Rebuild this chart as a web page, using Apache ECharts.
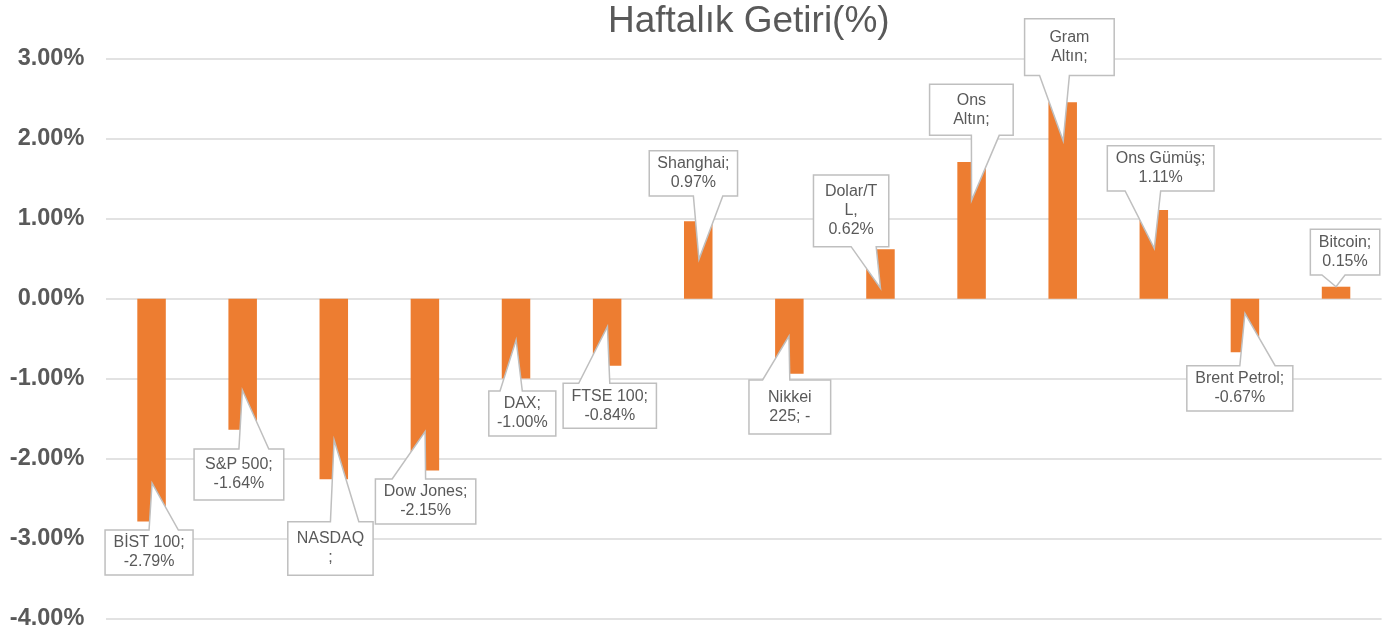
<!DOCTYPE html>
<html>
<head>
<meta charset="utf-8">
<script src="https://cdn.jsdelivr.net/npm/echarts@6/dist/echarts.min.js"></script>
<style>
html,body{margin:0;padding:0;background:#fff;}
#chart{width:1389px;height:636px;}
</style>
</head>
<body>
<div id="chart"></div>
<script>
// ---- data ----
var categories = ['BİST 100','S&P 500','NASDAQ','Dow Jones','DAX','FTSE 100','Shanghai','Nikkei 225','Dolar/TL','Ons Altın','Gram Altın','Ons Gümüş','Brent Petrol','Bitcoin'];
var values = [-2.79,-1.64,-2.26,-2.15,-1.00,-0.84,0.97,-0.94,0.62,1.71,2.46,1.11,-0.67,0.15];
var labelTexts = [
  'BİST 100;\n-2.79%',
  'S&P 500;\n-1.64%',
  'NASDAQ\n;',
  'Dow Jones;\n-2.15%',
  'DAX;\n-1.00%',
  'FTSE 100;\n-0.84%',
  'Shanghai;\n0.97%',
  'Nikkei\n225; -',
  'Dolar/T\nL,\n0.62%',
  'Ons\nAltın;',
  'Gram\nAltın;',
  'Ons Gümüş;\n1.11%',
  'Brent Petrol;\n-0.67%',
  'Bitcoin;\n0.15%'
];
var yTicks = [-4,-3,-2,-1,0,1,2,3];
var titleText = 'Haftalık Getiri(%)';

// ---- label layout (pixel offsets from the bar end) ----
var calloutBox = [
  [-46.5,41.5,8.4,53.4],
  [-48.6,41.1,19.3,70.3],
  [-46,39.3,42.4,96],
  [-49.5,50.9,8.5,53.5],
  [-27.2,39.8,12.4,57.4],
  [-44,49.3,17.5,62.5],
  [-49,39.3,-70.5,-25.2],
  [-40.4,41.3,6.2,60.2],
  [-67,8.3,-74.2,-2.5],
  [-42,41.6,-77.7,-26.7],
  [-38.1,51.5,-83.3,-26.6],
  [-46.5,60.2,-64.3,-19],
  [-58.1,47.9,13.5,58.8],
  [-25.7,43.7,-57.4,-11.7]
];
var calloutTip = [
  [0.5,-38.6],[-0.3,-39.7],[0.3,-39.3],[0.2,-38.8],[0.1,-38.6],[0.3,-39.1],
  [0.7,38.1],[-0.4,-37.8],[0,39.1],[0,38.3],[0.5,38.7],[0.5,38.3],[0,-38.9],[0,0]
];

var FONT = "'Liberation Sans', Arial, sans-serif";
var chart = echarts.init(document.getElementById('chart'), null, {renderer:'canvas'});

function renderCallout(params, api){
  var i = api.value(0), v = api.value(1);
  var p = api.coord([i, v]);
  var b = calloutBox[i], t = calloutTip[i];
  var x0 = p[0]+b[0], x1 = p[0]+b[1], y0 = p[1]+b[2], y1 = p[1]+b[3];
  var tx = p[0]+t[0], ty = p[1]+t[1];
  var w = x1-x0, cx = (x0+x1)/2;
  var f = tx >= cx ? [0.5,0.833] : [0.167,0.5];
  var a = x0+w*f[0], bb = x0+w*f[1];
  var pts;
  if (ty < y0) {
    pts = [[x0,y0],[a,y0],[tx,ty],[bb,y0],[x1,y0],[x1,y1],[x0,y1]];
  } else {
    pts = [[x0,y0],[x1,y0],[x1,y1],[bb,y1],[tx,ty],[a,y1],[x0,y1]];
  }
  return {
    type:'group',
    children:[
      {type:'polygon', shape:{points:pts}, style:{fill:'#ffffff', stroke:'#bfbfbf', lineWidth:1.5}},
      {type:'text', x:cx, y:(y0+y1)/2, style:{text:labelTexts[i], fill:'#595959', font:'16px '+FONT, align:'center', verticalAlign:'middle', lineHeight:19}}
    ]
  };
}

var option = {
  backgroundColor:'#ffffff',
  animation:false,
  title:{
    text:titleText, left:608, top:3, padding:0,
    textStyle:{fontFamily:FONT, fontSize:37, fontWeight:'normal', color:'#595959'}
  },
  grid:{left:106, right:7.4, top:59, bottom:17.7, containLabel:false},
  xAxis:{
    type:'category', data:categories,
    axisLine:{show:false}, axisTick:{show:false}, axisLabel:{show:false}, splitLine:{show:false}
  },
  yAxis:{
    type:'value', min:yTicks[0], max:yTicks[yTicks.length-1], interval:1,
    axisLine:{show:false}, axisTick:{show:false},
    axisLabel:{margin:21.7, fontFamily:FONT, fontSize:23.5, fontWeight:'bold', color:'#595959',
      formatter:function(v){return v.toFixed(2)+'%';}},
    splitLine:{lineStyle:{color:'#d9d9d9', width:1.5}}
  },
  series:[
    {type:'bar', data:values, barWidth:28.5, itemStyle:{color:'#ED7D31'}, z:2},
    {type:'custom', data:values.map(function(v,i){return [i,v];}), encode:{x:0,y:1},
     renderItem:renderCallout, clip:false, z:5, silent:true}
  ]
};
chart.setOption(option);
</script>
</body>
</html>
